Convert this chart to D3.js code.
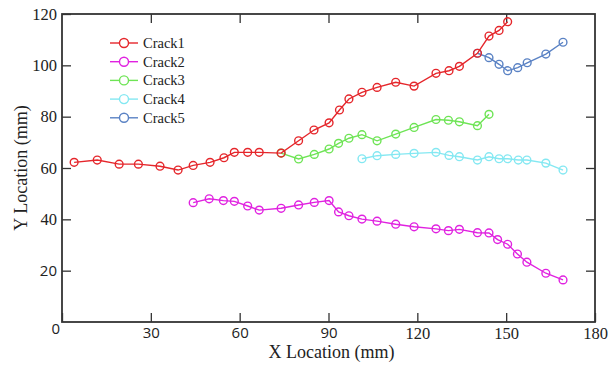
<!DOCTYPE html>
<html>
<head>
<meta charset="utf-8">
<script src="https://cdn.jsdelivr.net/npm/d3@7"></script>
<style>
  body { margin: 0; background: #fff; }
  svg { display: block; }
</style>
</head>
<body>
<div id="chart"></div>
<script>
const seriesNames = ["Crack1", "Crack2", "Crack3", "Crack4", "Crack5"];
const seriesColors = ["#e5262b", "#e022e0", "#6ee455", "#84e8f2", "#5a82c4"];

const crack1X = [4.1, 11.9, 19.3, 25.8, 33.1, 39.2, 44.3, 50.0, 54.7, 58.2, 62.7, 66.6, 74.0, 79.9, 85.1, 90.2, 93.7, 96.9, 101.3, 106.4, 112.7, 118.9, 126.3, 130.7, 134.2, 140.3, 144.2, 147.6, 150.5];
const crack1Y = [62.2, 63.1, 61.5, 61.5, 60.7, 59.2, 61.0, 62.2, 64.0, 66.1, 66.1, 66.1, 65.8, 70.6, 74.8, 77.6, 82.6, 86.9, 89.5, 91.4, 93.4, 91.9, 96.9, 97.9, 99.6, 104.7, 111.4, 113.6, 117.0];

const crack2X = [44.3, 49.7, 54.5, 58.2, 62.7, 66.6, 74.0, 79.9, 85.2, 90.2, 93.4, 96.9, 101.3, 106.4, 112.7, 118.9, 126.3, 130.5, 134.2, 140.3, 144.2, 147.1, 150.5, 153.8, 157.0, 163.4, 169.2];
const crack2Y = [46.5, 48.0, 47.3, 47.0, 45.2, 43.6, 44.3, 45.6, 46.6, 47.3, 42.9, 41.4, 40.1, 39.3, 38.1, 37.1, 36.3, 35.6, 36.1, 34.8, 34.7, 32.1, 30.3, 26.5, 23.3, 19.0, 16.4];

const crack3X = [74.0, 79.9, 85.2, 90.2, 93.4, 96.9, 101.3, 106.4, 112.7, 118.9, 126.3, 130.5, 134.2, 140.3, 144.2];
const crack3Y = [65.8, 63.5, 65.3, 67.4, 69.6, 71.6, 73.0, 70.6, 73.2, 75.8, 78.9, 78.6, 78.0, 76.5, 80.9];

const crack4X = [101.3, 106.4, 112.7, 118.9, 126.3, 130.7, 134.2, 140.3, 144.2, 147.6, 150.5, 154.1, 157.0, 163.4, 169.2];
const crack4Y = [63.6, 64.8, 65.3, 65.7, 66.1, 64.9, 64.4, 63.1, 64.4, 63.6, 63.6, 63.1, 63.1, 61.9, 59.2];

const crack5X = [140.3, 144.2, 147.6, 150.5, 153.9, 157.1, 163.4, 169.2];
const crack5Y = [104.7, 103.0, 100.4, 97.9, 99.1, 101.0, 104.4, 109.0];

const xTicks = [0, 30, 60, 90, 120, 150, 180];
const yTicks = [0, 20, 40, 60, 80, 100, 120];

const allX = [crack1X, crack2X, crack3X, crack4X, crack5X];
const allY = [crack1Y, crack2Y, crack3Y, crack4Y, crack5Y];
const series = seriesNames.map((name, i) => ({
  name,
  color: seriesColors[i],
  points: allX[i].map((x, j) => [x, allY[i][j]])
}));

const width = 614, height = 367;
const margin = { top: 14, right: 19, bottom: 45, left: 62 };
const innerW = width - margin.left - margin.right;
const innerH = height - margin.top - margin.bottom;

const serif = "'Liberation Serif', 'Times New Roman', serif";
const sans = "'Open Sans', 'Noto Sans', sans-serif";
// the source figure mixes two faces in its tick labels
const sansXTicks = [30, 60, 90];
const sansYTicks = [0, 20];

const svg = d3.select("#chart").append("svg")
  .attr("width", width)
  .attr("height", height);

const g = svg.append("g").attr("transform", `translate(${margin.left},${margin.top})`);

const x = d3.scaleLinear().domain([0, 180]).range([0, innerW]);
const y = d3.scaleLinear().domain([0, 120]).range([innerH, 0]);

const axisColor = "#333";
const tickLen = 9;

function styleTicks(a, sansList) {
  a.select(".domain").remove();
  a.selectAll("line").attr("stroke", axisColor).attr("stroke-width", 1.3);
  a.selectAll("text")
    .attr("fill", "#222")
    .style("font-family", d => sansList.includes(d) ? sans : serif)
    .style("font-size", d => sansList.includes(d) ? "15px" : "16.5px");
}

// bottom + top ticks (inward)
g.append("g")
  .attr("transform", `translate(0,${innerH})`)
  .call(d3.axisBottom(x).tickValues(xTicks).tickSizeInner(-tickLen).tickSizeOuter(0).tickPadding(5)
    .tickFormat(d => d === 0 ? "" : d))
  .call(a => styleTicks(a, sansXTicks));

g.append("g")
  .call(d3.axisTop(x).tickValues(xTicks.slice(1, -1)).tickSizeInner(-tickLen).tickSizeOuter(0).tickFormat(""))
  .call(a => styleTicks(a, []));

g.append("g")
  .call(d3.axisLeft(y).tickValues(yTicks).tickSizeInner(-tickLen).tickSizeOuter(0).tickPadding(5))
  .call(a => styleTicks(a, sansYTicks))
  .call(a => {
    const zero = a.selectAll(".tick").filter(d => d === 0);
    zero.select("line").remove();
    zero.select("text").attr("dx", 3).attr("dy", "0.75em");
  });

g.append("g")
  .attr("transform", `translate(${innerW},0)`)
  .call(d3.axisRight(y).tickValues(yTicks.slice(1, -1)).tickSizeInner(-tickLen).tickSizeOuter(0).tickFormat(""))
  .call(a => styleTicks(a, []));

// frame
g.append("rect")
  .attr("width", innerW)
  .attr("height", innerH)
  .attr("fill", "none")
  .attr("stroke", axisColor)
  .attr("stroke-width", 1.8);

const line = d3.line().x(d => x(d[0])).y(d => y(d[1]));

// draw in reverse so Crack1 ends on top
series.slice().reverse().forEach(s => {
  g.append("path")
    .datum(s.points)
    .attr("d", line)
    .attr("fill", "none")
    .attr("stroke", s.color)
    .attr("stroke-width", 1.4);
  g.selectAll(null)
    .data(s.points)
    .join("circle")
    .attr("cx", d => x(d[0]))
    .attr("cy", d => y(d[1]))
    .attr("r", 3.9)
    .attr("fill", "none")
    .attr("stroke", s.color)
    .attr("stroke-width", 1.4);
});

// legend
const legend = svg.append("g").attr("transform", "translate(110,43)");
series.forEach((s, i) => {
  const row = legend.append("g").attr("transform", `translate(0,${i * 18.7})`);
  row.append("line").attr("x1", 0).attr("x2", 28).attr("stroke", s.color).attr("stroke-width", 1.4);
  row.append("circle").attr("cx", 14).attr("r", 4.5).attr("fill", "#fff").attr("stroke", s.color).attr("stroke-width", 1.4);
  row.append("text").attr("x", 33).attr("dy", "0.35em")
    .style("font-family", serif).style("font-size", "14.5px")
    .attr("fill", "#222").text(s.name);
});

// axis titles
svg.append("text")
  .attr("x", margin.left + innerW / 2 + 3)
  .attr("y", 358)
  .attr("text-anchor", "middle")
  .style("font-family", serif).style("font-size", "18px")
  .attr("fill", "#222")
  .text("X Location (mm)");

svg.append("text")
  .attr("transform", `translate(27,${margin.top + innerH / 2}) rotate(-90)`)
  .attr("text-anchor", "middle")
  .style("font-family", serif).style("font-size", "18px")
  .attr("fill", "#222")
  .text("Y Location (mm)");
</script>
</body>
</html>
